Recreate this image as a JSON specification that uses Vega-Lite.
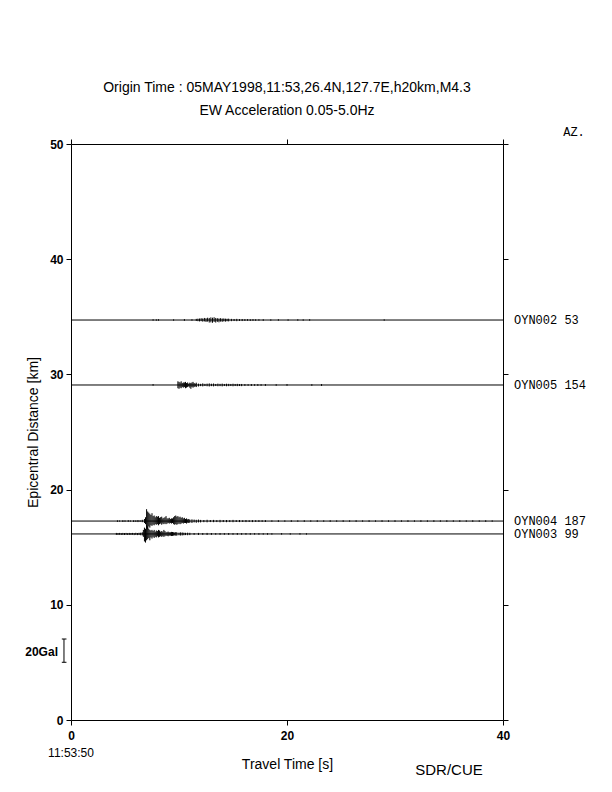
{
"$schema":"https://vega.github.io/schema/vega-lite/v6.json",
"width":432,"height":576,
"autosize":{"type":"none"},
"padding":{"left":71,"top":144,"right":109,"bottom":72},
"background":"white",
"config":{"view":{"stroke":null},
"axis":{"grid":false,"labelFlush":false,"domainColor":"black","domainWidth":1,"tickColor":"black","tickWidth":1,"tickSize":5,"labelColor":"black","labelFont":"Liberation Sans","labelFontSize":12,"labelFontWeight":"bold","titleColor":"black","titleFont":"Liberation Sans","titleFontSize":14,"titleFontWeight":"normal"}},
"title":{"text":"Origin Time : 05MAY1998,11:53,26.4N,127.7E,h20km,M4.3","subtitle":"EW Acceleration 0.05-5.0Hz","anchor":"middle","font":"Liberation Sans","fontSize":14,"fontWeight":"normal","color":"black","subtitleFont":"Liberation Sans","subtitleFontSize":14,"subtitleColor":"black","subtitlePadding":9,"offset":8},
"datasets":{
"stations":[{"name":"OYN002 53","d":34.72},{"name":"OYN005 154","d":29.08},{"name":"OYN004 187","d":17.27},{"name":"OYN003 99","d":16.15}],
"w":[
{"s":"OYN004","t":4.3,"lo":17.2,"hi":17.33},{"s":"OYN004","t":4.5,"lo":17.22,"hi":17.32},{"s":"OYN004","t":4.8,"lo":17.19,"hi":17.34},{"s":"OYN004","t":5.0,"lo":17.21,"hi":17.33},{"s":"OYN004","t":5.3,"lo":17.2,"hi":17.35},{"s":"OYN004","t":5.5,"lo":17.22,"hi":17.32},{"s":"OYN004","t":5.8,"lo":17.19,"hi":17.34},{"s":"OYN004","t":6.0,"lo":17.2,"hi":17.33},{"s":"OYN004","t":6.2,"lo":17.18,"hi":17.36},{"s":"OYN004","t":6.4,"lo":17.21,"hi":17.33},{"s":"OYN004","t":6.6,"lo":17.17,"hi":17.38},{"s":"OYN004","t":6.8,"lo":17.1,"hi":17.45},
{"s":"OYN004","t":6.9,"lo":17.0,"hi":17.6},{"s":"OYN004","t":7.0,"lo":16.6,"hi":18.3},{"s":"OYN004","t":7.1,"lo":16.55,"hi":18.1},{"s":"OYN004","t":7.2,"lo":16.8,"hi":18.0},{"s":"OYN004","t":7.3,"lo":16.7,"hi":17.9},{"s":"OYN004","t":7.4,"lo":16.9,"hi":17.8},{"s":"OYN004","t":7.5,"lo":16.85,"hi":17.95},{"s":"OYN004","t":7.6,"lo":16.95,"hi":17.7},{"s":"OYN004","t":7.7,"lo":16.9,"hi":17.75},{"s":"OYN004","t":7.8,"lo":17.0,"hi":17.6},{"s":"OYN004","t":7.9,"lo":16.95,"hi":17.7},{"s":"OYN004","t":8.0,"lo":17.0,"hi":17.65},{"s":"OYN004","t":8.1,"lo":16.9,"hi":17.7},{"s":"OYN004","t":8.2,"lo":17.0,"hi":17.55},{"s":"OYN004","t":8.3,"lo":17.05,"hi":17.6},{"s":"OYN004","t":8.4,"lo":16.95,"hi":17.65},{"s":"OYN004","t":8.5,"lo":17.05,"hi":17.5},{"s":"OYN004","t":8.6,"lo":17.0,"hi":17.55},{"s":"OYN004","t":8.7,"lo":17.05,"hi":17.6},{"s":"OYN004","t":8.8,"lo":17.0,"hi":17.7},{"s":"OYN004","t":8.9,"lo":17.05,"hi":17.5},{"s":"OYN004","t":9.0,"lo":17.1,"hi":17.5},{"s":"OYN004","t":9.1,"lo":17.05,"hi":17.55},{"s":"OYN004","t":9.2,"lo":17.1,"hi":17.45},{"s":"OYN004","t":9.3,"lo":17.05,"hi":17.5},{"s":"OYN004","t":9.4,"lo":17.1,"hi":17.5},{"s":"OYN004","t":9.5,"lo":17.0,"hi":17.6},{"s":"OYN004","t":9.6,"lo":16.95,"hi":17.7},{"s":"OYN004","t":9.7,"lo":17.0,"hi":17.75},{"s":"OYN004","t":9.8,"lo":16.95,"hi":17.65},{"s":"OYN004","t":9.9,"lo":17.0,"hi":17.7},{"s":"OYN004","t":10.0,"lo":17.05,"hi":17.6},{"s":"OYN004","t":10.1,"lo":17.0,"hi":17.65},{"s":"OYN004","t":10.2,"lo":17.05,"hi":17.55},{"s":"OYN004","t":10.3,"lo":17.1,"hi":17.6},{"s":"OYN004","t":10.4,"lo":17.05,"hi":17.5},{"s":"OYN004","t":10.5,"lo":17.1,"hi":17.55},{"s":"OYN004","t":10.6,"lo":17.1,"hi":17.45},{"s":"OYN004","t":10.7,"lo":17.05,"hi":17.5},{"s":"OYN004","t":10.8,"lo":17.12,"hi":17.42},{"s":"OYN004","t":10.9,"lo":17.1,"hi":17.45},{"s":"OYN004","t":11.0,"lo":17.12,"hi":17.4},{"s":"OYN004","t":11.2,"lo":17.1,"hi":17.42},{"s":"OYN004","t":11.4,"lo":17.15,"hi":17.4},{"s":"OYN004","t":11.6,"lo":17.12,"hi":17.38},{"s":"OYN004","t":11.8,"lo":17.15,"hi":17.4},{"s":"OYN004","t":12.0,"lo":17.15,"hi":17.37},{"s":"OYN004","t":12.3,"lo":17.17,"hi":17.36},{"s":"OYN004","t":12.6,"lo":17.16,"hi":17.38},{"s":"OYN004","t":12.9,"lo":17.18,"hi":17.36},{"s":"OYN004","t":13.2,"lo":17.17,"hi":17.37},{"s":"OYN004","t":13.5,"lo":17.18,"hi":17.35},{"s":"OYN004","t":13.8,"lo":17.16,"hi":17.37},{"s":"OYN004","t":14.1,"lo":17.18,"hi":17.36},{"s":"OYN004","t":14.4,"lo":17.17,"hi":17.36},{"s":"OYN004","t":14.7,"lo":17.18,"hi":17.35},{"s":"OYN004","t":15.0,"lo":17.17,"hi":17.37},{"s":"OYN004","t":15.3,"lo":17.19,"hi":17.35},{"s":"OYN004","t":15.6,"lo":17.18,"hi":17.36},{"s":"OYN004","t":15.9,"lo":17.19,"hi":17.34},{"s":"OYN004","t":16.2,"lo":17.18,"hi":17.36},{"s":"OYN004","t":16.5,"lo":17.19,"hi":17.34},{"s":"OYN004","t":16.8,"lo":17.18,"hi":17.35},{"s":"OYN004","t":17.1,"lo":17.2,"hi":17.34},{"s":"OYN004","t":17.4,"lo":17.19,"hi":17.35},{"s":"OYN004","t":17.7,"lo":17.2,"hi":17.34},{"s":"OYN004","t":18.0,"lo":17.19,"hi":17.35},
{"s":"OYN004","t":18.6,"lo":17.21,"hi":17.33},{"s":"OYN004","t":19.2,"lo":17.2,"hi":17.34},{"s":"OYN004","t":19.8,"lo":17.21,"hi":17.33},{"s":"OYN004","t":20.4,"lo":17.2,"hi":17.34},{"s":"OYN004","t":21.0,"lo":17.21,"hi":17.33},{"s":"OYN004","t":21.6,"lo":17.2,"hi":17.34},{"s":"OYN004","t":22.2,"lo":17.21,"hi":17.33},{"s":"OYN004","t":22.8,"lo":17.2,"hi":17.34},{"s":"OYN004","t":23.4,"lo":17.21,"hi":17.33},{"s":"OYN004","t":24.0,"lo":17.2,"hi":17.34},{"s":"OYN004","t":24.6,"lo":17.21,"hi":17.33},{"s":"OYN004","t":25.2,"lo":17.2,"hi":17.34},{"s":"OYN004","t":25.8,"lo":17.21,"hi":17.33},{"s":"OYN004","t":26.4,"lo":17.2,"hi":17.34},{"s":"OYN004","t":27.0,"lo":17.21,"hi":17.33},{"s":"OYN004","t":27.6,"lo":17.2,"hi":17.34},{"s":"OYN004","t":28.2,"lo":17.21,"hi":17.33},{"s":"OYN004","t":28.8,"lo":17.2,"hi":17.34},{"s":"OYN004","t":29.4,"lo":17.21,"hi":17.33},{"s":"OYN004","t":30.0,"lo":17.2,"hi":17.34},{"s":"OYN004","t":30.6,"lo":17.21,"hi":17.33},{"s":"OYN004","t":31.2,"lo":17.2,"hi":17.34},{"s":"OYN004","t":31.8,"lo":17.21,"hi":17.33},{"s":"OYN004","t":32.4,"lo":17.2,"hi":17.34},{"s":"OYN004","t":33.0,"lo":17.21,"hi":17.33},{"s":"OYN004","t":33.6,"lo":17.2,"hi":17.34},{"s":"OYN004","t":34.2,"lo":17.21,"hi":17.33},{"s":"OYN004","t":34.8,"lo":17.2,"hi":17.34},{"s":"OYN004","t":35.4,"lo":17.21,"hi":17.33},{"s":"OYN004","t":36.0,"lo":17.2,"hi":17.34},{"s":"OYN004","t":36.6,"lo":17.21,"hi":17.33},{"s":"OYN004","t":37.2,"lo":17.2,"hi":17.34},{"s":"OYN004","t":37.8,"lo":17.21,"hi":17.33},{"s":"OYN004","t":38.4,"lo":17.2,"hi":17.34},{"s":"OYN004","t":39.0,"lo":17.21,"hi":17.33},
{"s":"OYN003","t":4.2,"lo":16.07,"hi":16.24},{"s":"OYN003","t":4.35,"lo":16.06,"hi":16.23},{"s":"OYN003","t":4.5,"lo":16.08,"hi":16.24},{"s":"OYN003","t":4.65,"lo":16.06,"hi":16.22},{"s":"OYN003","t":4.8,"lo":16.07,"hi":16.24},{"s":"OYN003","t":4.95,"lo":16.06,"hi":16.23},{"s":"OYN003","t":5.1,"lo":16.08,"hi":16.24},{"s":"OYN003","t":5.25,"lo":16.06,"hi":16.22},{"s":"OYN003","t":5.4,"lo":16.07,"hi":16.24},{"s":"OYN003","t":5.55,"lo":16.06,"hi":16.23},{"s":"OYN003","t":5.7,"lo":16.08,"hi":16.24},{"s":"OYN003","t":5.85,"lo":16.05,"hi":16.22},{"s":"OYN003","t":6.0,"lo":16.07,"hi":16.25},{"s":"OYN003","t":6.15,"lo":16.05,"hi":16.23},{"s":"OYN003","t":6.3,"lo":16.06,"hi":16.25},{"s":"OYN003","t":6.45,"lo":16.04,"hi":16.26},{"s":"OYN003","t":6.6,"lo":16.02,"hi":16.3},
{"s":"OYN003","t":6.7,"lo":15.9,"hi":16.5},{"s":"OYN003","t":6.8,"lo":15.5,"hi":16.7},{"s":"OYN003","t":6.9,"lo":15.4,"hi":16.6},{"s":"OYN003","t":7.0,"lo":15.6,"hi":16.9},{"s":"OYN003","t":7.1,"lo":15.7,"hi":16.8},{"s":"OYN003","t":7.2,"lo":15.8,"hi":16.6},{"s":"OYN003","t":7.3,"lo":15.6,"hi":16.5},{"s":"OYN003","t":7.4,"lo":15.85,"hi":16.45},{"s":"OYN003","t":7.5,"lo":15.75,"hi":16.5},{"s":"OYN003","t":7.6,"lo":15.9,"hi":16.4},{"s":"OYN003","t":7.7,"lo":15.8,"hi":16.5},{"s":"OYN003","t":7.8,"lo":15.9,"hi":16.35},{"s":"OYN003","t":7.9,"lo":15.85,"hi":16.45},{"s":"OYN003","t":8.0,"lo":15.95,"hi":16.4},{"s":"OYN003","t":8.1,"lo":15.85,"hi":16.5},{"s":"OYN003","t":8.2,"lo":15.9,"hi":16.45},{"s":"OYN003","t":8.3,"lo":15.95,"hi":16.35},{"s":"OYN003","t":8.4,"lo":15.9,"hi":16.4},{"s":"OYN003","t":8.5,"lo":15.95,"hi":16.35},{"s":"OYN003","t":8.6,"lo":15.9,"hi":16.5},{"s":"OYN003","t":8.7,"lo":15.95,"hi":16.4},{"s":"OYN003","t":8.8,"lo":16.0,"hi":16.3},{"s":"OYN003","t":8.9,"lo":15.97,"hi":16.33},{"s":"OYN003","t":9.0,"lo":15.95,"hi":16.35},{"s":"OYN003","t":9.1,"lo":16.0,"hi":16.3},{"s":"OYN003","t":9.2,"lo":16.0,"hi":16.3},{"s":"OYN003","t":9.3,"lo":15.97,"hi":16.33},{"s":"OYN003","t":9.4,"lo":15.98,"hi":16.32},{"s":"OYN003","t":9.5,"lo":16.0,"hi":16.3},{"s":"OYN003","t":9.6,"lo":16.02,"hi":16.28},{"s":"OYN003","t":9.7,"lo":16.0,"hi":16.31},{"s":"OYN003","t":9.8,"lo":16.0,"hi":16.3},{"s":"OYN003","t":10.0,"lo":16.03,"hi":16.27},{"s":"OYN003","t":10.15,"lo":16.01,"hi":16.29},{"s":"OYN003","t":10.3,"lo":16.02,"hi":16.28},{"s":"OYN003","t":10.45,"lo":16.04,"hi":16.26},{"s":"OYN003","t":10.6,"lo":16.05,"hi":16.25},{"s":"OYN003","t":10.8,"lo":16.04,"hi":16.26},{"s":"OYN003","t":11.0,"lo":16.05,"hi":16.25},{"s":"OYN003","t":11.4,"lo":16.07,"hi":16.23},{"s":"OYN003","t":11.8,"lo":16.06,"hi":16.24},{"s":"OYN003","t":12.2,"lo":16.07,"hi":16.23},{"s":"OYN003","t":12.6,"lo":16.06,"hi":16.24},{"s":"OYN003","t":13.0,"lo":16.07,"hi":16.23},{"s":"OYN003","t":13.4,"lo":16.08,"hi":16.22},{"s":"OYN003","t":13.8,"lo":16.07,"hi":16.23},{"s":"OYN003","t":14.2,"lo":16.08,"hi":16.22},{"s":"OYN003","t":14.6,"lo":16.07,"hi":16.23},{"s":"OYN003","t":15.0,"lo":16.08,"hi":16.22},{"s":"OYN003","t":15.4,"lo":16.07,"hi":16.23},{"s":"OYN003","t":15.8,"lo":16.08,"hi":16.22},{"s":"OYN003","t":16.2,"lo":16.08,"hi":16.23},{"s":"OYN003","t":16.6,"lo":16.08,"hi":16.22},{"s":"OYN003","t":17.0,"lo":16.09,"hi":16.22},{"s":"OYN003","t":17.4,"lo":16.08,"hi":16.22},{"s":"OYN003","t":17.8,"lo":16.09,"hi":16.21},{"s":"OYN003","t":18.2,"lo":16.08,"hi":16.22},{"s":"OYN003","t":18.6,"lo":16.09,"hi":16.21},{"s":"OYN003","t":19.5,"lo":16.09,"hi":16.22},{"s":"OYN003","t":20.3,"lo":16.09,"hi":16.21},{"s":"OYN003","t":21.2,"lo":16.09,"hi":16.22},{"s":"OYN003","t":21.8,"lo":16.09,"hi":16.21},
{"s":"OYN005","t":7.6,"lo":29.02,"hi":29.16},{"s":"OYN005","t":9.9,"lo":28.8,"hi":29.4},{"s":"OYN005","t":10.0,"lo":28.75,"hi":29.35},{"s":"OYN005","t":10.1,"lo":28.85,"hi":29.3},{"s":"OYN005","t":10.2,"lo":28.8,"hi":29.4},{"s":"OYN005","t":10.3,"lo":28.9,"hi":29.25},{"s":"OYN005","t":10.4,"lo":28.85,"hi":29.3},{"s":"OYN005","t":10.5,"lo":28.9,"hi":29.3},{"s":"OYN005","t":10.6,"lo":28.8,"hi":29.35},{"s":"OYN005","t":10.7,"lo":28.85,"hi":29.25},{"s":"OYN005","t":10.8,"lo":28.9,"hi":29.3},{"s":"OYN005","t":10.9,"lo":28.95,"hi":29.2},{"s":"OYN005","t":11.0,"lo":28.85,"hi":29.28},{"s":"OYN005","t":11.1,"lo":28.75,"hi":29.25},{"s":"OYN005","t":11.2,"lo":28.9,"hi":29.3},{"s":"OYN005","t":11.3,"lo":28.85,"hi":29.35},{"s":"OYN005","t":11.4,"lo":28.9,"hi":29.25},{"s":"OYN005","t":11.5,"lo":28.95,"hi":29.2},{"s":"OYN005","t":11.6,"lo":28.9,"hi":29.28},{"s":"OYN005","t":11.8,"lo":28.95,"hi":29.2},{"s":"OYN005","t":12.0,"lo":28.98,"hi":29.18},{"s":"OYN005","t":12.2,"lo":28.96,"hi":29.22},{"s":"OYN005","t":12.4,"lo":28.99,"hi":29.18},{"s":"OYN005","t":12.6,"lo":28.97,"hi":29.2},{"s":"OYN005","t":12.8,"lo":28.95,"hi":29.22},{"s":"OYN005","t":13.0,"lo":28.98,"hi":29.19},{"s":"OYN005","t":13.2,"lo":28.96,"hi":29.21},{"s":"OYN005","t":13.4,"lo":28.99,"hi":29.17},{"s":"OYN005","t":13.6,"lo":28.97,"hi":29.2},{"s":"OYN005","t":13.8,"lo":28.98,"hi":29.18},{"s":"OYN005","t":14.0,"lo":28.96,"hi":29.2},{"s":"OYN005","t":14.2,"lo":28.99,"hi":29.17},{"s":"OYN005","t":14.4,"lo":28.97,"hi":29.19},{"s":"OYN005","t":14.6,"lo":28.98,"hi":29.18},{"s":"OYN005","t":14.8,"lo":28.99,"hi":29.17},{"s":"OYN005","t":15.0,"lo":28.97,"hi":29.19},{"s":"OYN005","t":15.2,"lo":28.99,"hi":29.17},{"s":"OYN005","t":15.4,"lo":28.98,"hi":29.18},{"s":"OYN005","t":15.6,"lo":28.99,"hi":29.16},{"s":"OYN005","t":15.8,"lo":28.98,"hi":29.17},{"s":"OYN005","t":16.1,"lo":29.0,"hi":29.16},{"s":"OYN005","t":16.4,"lo":29.01,"hi":29.15},{"s":"OYN005","t":16.7,"lo":29.0,"hi":29.16},{"s":"OYN005","t":17.0,"lo":29.01,"hi":29.15},{"s":"OYN005","t":17.3,"lo":29.0,"hi":29.16},{"s":"OYN005","t":17.6,"lo":29.01,"hi":29.15},{"s":"OYN005","t":18.0,"lo":29.0,"hi":29.16},{"s":"OYN005","t":19.0,"lo":29.01,"hi":29.15},{"s":"OYN005","t":20.0,"lo":29.01,"hi":29.16},{"s":"OYN005","t":22.3,"lo":29.01,"hi":29.15},{"s":"OYN005","t":23.2,"lo":29.0,"hi":29.16},
{"s":"OYN002","t":7.6,"lo":34.66,"hi":34.79},{"s":"OYN002","t":7.9,"lo":34.66,"hi":34.78},{"s":"OYN002","t":8.1,"lo":34.66,"hi":34.79},{"s":"OYN002","t":9.5,"lo":34.66,"hi":34.78},{"s":"OYN002","t":10.5,"lo":34.65,"hi":34.8},{"s":"OYN002","t":11.2,"lo":34.66,"hi":34.79},{"s":"OYN002","t":11.6,"lo":34.64,"hi":34.82},{"s":"OYN002","t":11.75,"lo":34.62,"hi":34.84},{"s":"OYN002","t":11.9,"lo":34.6,"hi":34.85},{"s":"OYN002","t":12.05,"lo":34.62,"hi":34.88},{"s":"OYN002","t":12.2,"lo":34.58,"hi":34.86},{"s":"OYN002","t":12.35,"lo":34.6,"hi":34.9},{"s":"OYN002","t":12.5,"lo":34.55,"hi":34.88},{"s":"OYN002","t":12.65,"lo":34.58,"hi":34.92},{"s":"OYN002","t":12.8,"lo":34.5,"hi":34.9},{"s":"OYN002","t":12.95,"lo":34.52,"hi":34.95},{"s":"OYN002","t":13.1,"lo":34.48,"hi":34.92},{"s":"OYN002","t":13.25,"lo":34.55,"hi":34.96},{"s":"OYN002","t":13.4,"lo":34.5,"hi":34.9},{"s":"OYN002","t":13.55,"lo":34.56,"hi":34.88},{"s":"OYN002","t":13.7,"lo":34.52,"hi":34.86},{"s":"OYN002","t":13.85,"lo":34.58,"hi":34.88},{"s":"OYN002","t":14.0,"lo":34.56,"hi":34.85},{"s":"OYN002","t":14.15,"lo":34.6,"hi":34.86},{"s":"OYN002","t":14.3,"lo":34.58,"hi":34.84},{"s":"OYN002","t":14.45,"lo":34.61,"hi":34.83},{"s":"OYN002","t":14.6,"lo":34.6,"hi":34.84},{"s":"OYN002","t":14.85,"lo":34.62,"hi":34.82},{"s":"OYN002","t":15.1,"lo":34.63,"hi":34.81},{"s":"OYN002","t":15.35,"lo":34.62,"hi":34.82},{"s":"OYN002","t":15.6,"lo":34.64,"hi":34.8},{"s":"OYN002","t":15.85,"lo":34.63,"hi":34.81},{"s":"OYN002","t":16.1,"lo":34.64,"hi":34.8},{"s":"OYN002","t":16.35,"lo":34.65,"hi":34.8},{"s":"OYN002","t":16.6,"lo":34.64,"hi":34.79},{"s":"OYN002","t":16.85,"lo":34.65,"hi":34.8},{"s":"OYN002","t":17.1,"lo":34.65,"hi":34.79},{"s":"OYN002","t":17.4,"lo":34.66,"hi":34.79},{"s":"OYN002","t":17.8,"lo":34.65,"hi":34.79},{"s":"OYN002","t":18.5,"lo":34.66,"hi":34.78},{"s":"OYN002","t":19.2,"lo":34.66,"hi":34.79},{"s":"OYN002","t":20.1,"lo":34.66,"hi":34.78},{"s":"OYN002","t":21.0,"lo":34.66,"hi":34.79},{"s":"OYN002","t":21.5,"lo":34.66,"hi":34.78},{"s":"OYN002","t":22.1,"lo":34.66,"hi":34.79},{"s":"OYN002","t":29.0,"lo":34.66,"hi":34.78}
]},
"layer":[
{"data":{"name":"stations"},"mark":{"type":"rule","color":"black","strokeWidth":1},
"encoding":{
"y":{"field":"d","type":"quantitative","scale":{"domain":[0,50],"nice":false},"axis":{"orient":"left","values":[0,10,20,30,40,50],"title":"Epicentral Distance [km]","labelPadding":3,"titlePadding":9}},
"x":{"datum":0,"type":"quantitative","scale":{"domain":[0,40],"nice":false},"axis":{"orient":"bottom","values":[0,20,40],"title":"Travel Time [s]","labelPadding":5,"titlePadding":16}},
"x2":{"datum":40}}},
{"data":{"name":"w"},"mark":{"type":"rule","color":"black","strokeWidth":1},
"encoding":{
"x":{"field":"t","type":"quantitative","axis":{"orient":"top","values":[0,20,40],"labels":false,"title":null}},
"y":{"field":"lo","type":"quantitative","axis":{"orient":"right","values":[0,10,20,30,40,50],"labels":false,"title":null}},
"y2":{"field":"hi"}}},
{"data":{"name":"stations"},"mark":{"type":"text","align":"left","baseline":"middle","dx":11,"font":"Liberation Mono","fontSize":12,"color":"black"},
"encoding":{"x":{"datum":40,"type":"quantitative","axis":null},"y":{"field":"d","type":"quantitative","axis":null},"text":{"field":"name"}}},
{"data":{"values":[{}]},"mark":{"type":"text","text":"AZ.","align":"center","baseline":"middle","dx":71,"dy":-12,"font":"Liberation Mono","fontSize":12,"color":"black"},
"encoding":{"x":{"datum":40,"type":"quantitative","axis":null},"y":{"datum":50,"type":"quantitative","axis":null}}},
{"data":{"values":[{}]},"mark":{"type":"text","text":"20Gal","align":"right","baseline":"middle","dx":-6,"font":"Liberation Sans","fontSize":12,"fontWeight":"bold","color":"black"},
"encoding":{"x":{"datum":-0.65,"type":"quantitative","axis":null},"y":{"datum":5.93,"type":"quantitative","axis":null}}},
{"data":{"values":[{}]},"mark":{"type":"rule","color":"black","strokeWidth":1},
"encoding":{"x":{"datum":-0.65,"type":"quantitative","axis":null},"y":{"datum":5.01,"type":"quantitative","axis":null},"y2":{"datum":7.03}}},
{"data":{"values":[{}]},"mark":{"type":"rule","color":"black","strokeWidth":1},
"encoding":{"x":{"datum":-0.85,"type":"quantitative","axis":null},"x2":{"datum":-0.42},"y":{"datum":5.01,"type":"quantitative","axis":null}}},
{"data":{"values":[{}]},"mark":{"type":"rule","color":"black","strokeWidth":1},
"encoding":{"x":{"datum":-0.85,"type":"quantitative","axis":null},"x2":{"datum":-0.42},"y":{"datum":7.03,"type":"quantitative","axis":null}}},
{"data":{"values":[{}]},"mark":{"type":"text","text":"11:53:50","align":"center","baseline":"middle","dy":33,"font":"Liberation Sans","fontSize":12,"color":"black"},
"encoding":{"x":{"datum":0,"type":"quantitative","axis":null},"y":{"datum":0,"type":"quantitative","axis":null}}},
{"data":{"values":[{}]},"mark":{"type":"text","text":"SDR/CUE","align":"center","baseline":"middle","dy":50,"font":"Liberation Sans","fontSize":15,"color":"black"},
"encoding":{"x":{"datum":35,"type":"quantitative","axis":null},"y":{"datum":0,"type":"quantitative","axis":null}}}
],
"resolve":{"axis":{"x":"independent","y":"independent"}}
}
